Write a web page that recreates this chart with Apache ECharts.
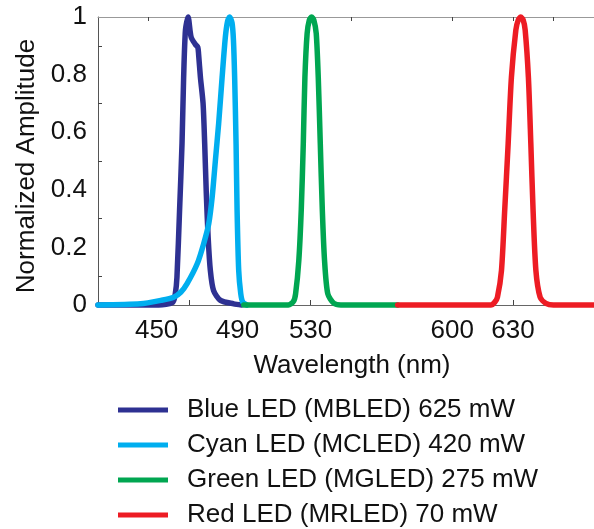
<!DOCTYPE html>
<html>
<head>
<meta charset="utf-8">
<script src="https://cdn.jsdelivr.net/npm/echarts@6/dist/echarts.min.js"></script>
<style>
  html, body { margin: 0; padding: 0; background: #fff; }
  #chart { width: 594px; height: 529px; }
</style>
</head>
<body>
<div id="chart"></div>
<script>
// ---- data ----
const seriesNames = [
  'Blue LED (MBLED) 625 mW',
  'Cyan LED (MCLED) 420 mW',
  'Green LED (MGLED) 275 mW',
  'Red LED (MRLED) 70 mW'
];
const seriesColors = ['#2E3192', '#00AEEF', '#00A651', '#ED1C24'];

const blueWl  = [425, 455, 462, 463.2, 464, 465.3, 466.5, 467.3, 468.2, 469.5, 471, 473.1, 474.3, 474.7, 475.6, 476.9, 477.7, 478.5, 479.4, 480.5, 482.1, 485.5, 492, 496];
const blueAmp = [0, 0, 0.01, 0.04, 0.097, 0.33, 0.56, 0.79, 0.955, 1.0, 0.93, 0.905, 0.895, 0.87, 0.79, 0.70, 0.56, 0.387, 0.236, 0.12, 0.05, 0.016, 0.004, 0];

const cyanWl  = [425, 446, 456, 462.4, 466, 469, 474, 477.2, 479.7, 481.4, 483, 484.6, 486.3, 487.9, 489, 490, 491.2, 491.9, 492.5, 493.2, 493.7, 494.5, 495.5, 496.5, 498.5];
const cyanAmp = [0, 0.004, 0.016, 0.027, 0.045, 0.074, 0.143, 0.213, 0.282, 0.375, 0.503, 0.63, 0.79, 0.93, 0.985, 1.0, 0.98, 0.92, 0.79, 0.56, 0.33, 0.12, 0.04, 0.01, 0];

const greenWl  = [497, 519, 521.5, 522.6, 524.2, 525.4, 526.4, 527.2, 528.3, 529.4, 530.5, 531.6, 532.8, 533.8, 534.8, 535.8, 536.9, 538.5, 541.5, 545, 573];
const greenAmp = [0, 0, 0.012, 0.039, 0.155, 0.33, 0.56, 0.79, 0.943, 0.99, 1.0, 0.99, 0.943, 0.79, 0.56, 0.33, 0.155, 0.039, 0.006, 0, 0];

const redWl  = [573, 619, 621, 622.3, 624.3, 625.9, 627.6, 629.2, 631.4, 632.6, 633.8, 635, 636, 637.6, 638.8, 639.9, 641.3, 643.4, 646.2, 650, 670];
const redAmp = [0, 0, 0.01, 0.027, 0.12, 0.33, 0.56, 0.79, 0.955, 0.99, 1.0, 0.99, 0.955, 0.79, 0.56, 0.33, 0.12, 0.027, 0.006, 0, 0];

const xLabelValues   = [450, 490, 530, 600, 630];
const xShiftedLabels = [450, 490];
const xBottomTicks   = [470, 530, 630];
const xTopTicks      = [450, 550, 600, 630, 650];
const yTickValues    = [0.1, 0.3, 0.5, 0.7, 0.9];

// ---- build ----
const zip = (a, b) => a.map((v, i) => [v, b[i]]);
const allWl  = [blueWl, cyanWl, greenWl, redWl];
const allAmp = [blueAmp, cyanAmp, greenAmp, redAmp];

const FONT = '"Liberation Sans", Arial, sans-serif';
const FS = 26;
const TXT = '#111';
const chart = echarts.init(document.getElementById('chart'), null, { renderer: 'canvas' });

chart.setOption({
  animation: false,
  backgroundColor: '#ffffff',
  textStyle: { fontFamily: FONT },
  grid: { left: 98, right: 0, top: 17, bottom: 224, containLabel: false },
  legend: {
    orient: 'vertical',
    left: 118,
    top: 397,
    height: 200,
    padding: 0,
    itemWidth: 50,
    itemHeight: 5,
    itemGap: 9,
    icon: 'rect',
    textStyle: { fontFamily: FONT, fontSize: FS, color: TXT, lineHeight: 26, padding: [0, 0, 0, 14] },
    data: seriesNames
  },
  xAxis: [{
    type: 'value',
    position: 'bottom',
    min: 425, max: 670,
    name: 'Wavelength (nm)',
    nameLocation: 'middle',
    nameGap: 48,
    nameTextStyle: { fontFamily: FONT, fontSize: FS, color: TXT, padding: [0, 0, 0, 12] },
    axisLine: { show: true, lineStyle: { color: '#666', width: 1 } },
    axisTick: { show: true, inside: true, length: 5, customValues: xBottomTicks, lineStyle: { color: '#444' } },
    axisLabel: {
      show: true, customValues: xLabelValues, fontFamily: FONT, fontSize: FS, color: TXT, margin: 13,
      formatter: v => (xShiftedLabels.indexOf(v) >= 0 ? '{s|' + v + '}' : String(v)),
      rich: { s: { fontFamily: FONT, fontSize: FS, color: TXT, padding: [0, 0, 0, 16] } }
    },
    splitLine: { show: false }
  }, {
    type: 'value',
    position: 'top',
    min: 425, max: 670,
    axisLine: { show: true, lineStyle: { color: '#999', width: 1 } },
    axisTick: { show: true, inside: true, length: 4, customValues: xTopTicks, lineStyle: { color: '#444' } },
    axisLabel: { show: false },
    splitLine: { show: false }
  }],
  yAxis: {
    type: 'value',
    min: 0, max: 1, interval: 0.2,
    name: 'Normalized Amplitude',
    nameLocation: 'middle',
    nameGap: 58,
    nameTextStyle: { fontFamily: FONT, fontSize: FS, color: TXT, padding: [0, 10, 0, 0] },
    axisLine: { show: true, lineStyle: { color: '#555', width: 1 } },
    axisTick: { show: true, inside: true, length: 4, customValues: yTickValues, lineStyle: { color: '#444' } },
    axisLabel: { fontFamily: FONT, fontSize: FS, color: TXT, margin: 11,
      formatter: v => (v === 0 ? '0' : v === 1 ? '1' : v.toFixed(1)) },
    splitLine: { show: false }
  },
  series: seriesNames.map((name, i) => ({
    name,
    type: 'line',
    xAxisIndex: 0,
    data: zip(allWl[i], allAmp[i]),
    showSymbol: false,
    symbol: 'none',
    smooth: 0.25,
    clip: false,
    color: seriesColors[i],
    lineStyle: { color: seriesColors[i], width: 5.5, cap: 'round', join: 'round' }
  }))
});
</script>
</body>
</html>
